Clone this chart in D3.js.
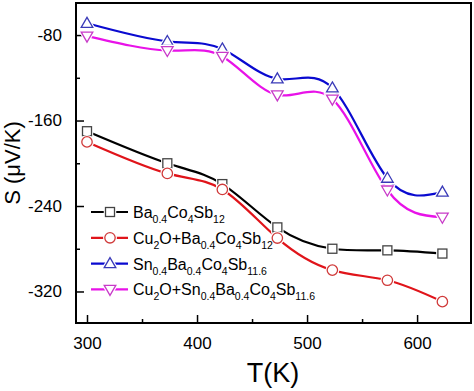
<!DOCTYPE html>
<html><head><meta charset="utf-8">
<script src="https://cdn.jsdelivr.net/npm/d3@7"></script>
<style>body{margin:0;background:#fff}svg{display:block}text{font-family:"Liberation Sans",Arial,sans-serif}</style>
</head><body><svg id="c" width="474" height="391"></svg>
<script>
const temps = [300, 373, 423, 473, 523, 573, 623];
const baCoSb = [-170, -200, -219.5, -260, -280, -281.5, -284.5];
const cu2oBaCoSb = [-180, -209.5, -224.5, -270, -300, -309.5, -329.5];
const snBaCoSb = [-69, -86, -93, -121, -129.5, -214, -227];
const cu2oSnBaCoSb = [-81, -94.5, -100, -136, -140, -225, -250.5];
const xTicks = [300, 400, 500, 600];
const yTicks = [-80, -160, -240, -320];
const xMinor = [350, 450, 550];
const yMinor = [-120, -200, -280];

const series = [
  {name: [["Ba",""],["0.4","sub"],["Co",""],["4","sub"],["Sb",""],["12","sub"]], values: baCoSb, line: "#000000", mark: "#444444", shape: "square"},
  {name: [["Cu",""],["2","sub"],["O+Ba",""],["0.4","sub"],["Co",""],["4","sub"],["Sb",""],["12","sub"]], values: cu2oBaCoSb, line: "#e0141a", mark: "#d03a3a", shape: "circle"},
  {name: [["Sn",""],["0.4","sub"],["Ba",""],["0.4","sub"],["Co",""],["4","sub"],["Sb",""],["11.6","sub"]], values: snBaCoSb, line: "#0a0ad0", mark: "#3a3ab8", shape: "up"},
  {name: [["Cu",""],["2","sub"],["O+Sn",""],["0.4","sub"],["Ba",""],["0.4","sub"],["Co",""],["4","sub"],["Sb",""],["11.6","sub"]], values: cu2oSnBaCoSb, line: "#e812e8", mark: "#c83ac8", shape: "down"}
];

const svg = d3.select("#c");
const L = 76, R = 471, T = 3, B = 323;
const x = d3.scaleLinear().domain([290, 649]).range([L, R]);
const y = d3.scaleLinear().domain([-349.5, -50]).range([B, T]);
const fmt = d => String(d);

const gx = svg.append("g").attr("transform", `translate(0,${B})`)
  .call(d3.axisBottom(x).tickValues(xTicks).tickSize(-8).tickPadding(14).tickFormat(fmt));
const gxm = svg.append("g").attr("transform", `translate(0,${B})`)
  .call(d3.axisBottom(x).tickValues(xMinor).tickSize(-4).tickFormat(""));
const gy = svg.append("g").attr("transform", `translate(${L},0)`)
  .call(d3.axisLeft(y).tickValues(yTicks).tickSize(-8).tickPadding(14).tickFormat(fmt));
const gym = svg.append("g").attr("transform", `translate(${L},0)`)
  .call(d3.axisLeft(y).tickValues(yMinor).tickSize(-4).tickFormat(""));
[gx, gxm, gy, gym].forEach(g => {
  g.select(".domain").remove();
  g.selectAll(".tick line").attr("stroke", "#000").attr("stroke-width", 1.5);
  g.selectAll("text").attr("font-size", 17).attr("fill", "#000");
});
gx.selectAll("text").attr("dy", "0.71em");

svg.append("rect").attr("x", L).attr("y", T).attr("width", R - L).attr("height", B - T)
  .attr("fill", "none").attr("stroke", "#000").attr("stroke-width", 2);

const line = d3.line().x((d, i) => x(temps[i])).y(d => y(d)).curve(d3.curveNatural);

function shapeEl(g, shape, cx, cy) {
  if (shape === "square") return g.append("rect").attr("x", cx - 4.5).attr("y", cy - 4.5).attr("width", 9).attr("height", 9);
  if (shape === "circle") return g.append("circle").attr("cx", cx).attr("cy", cy).attr("r", 5.2);
  if (shape === "up") return g.append("path").attr("d", `M${cx},${cy - 6}L${cx + 5.8},${cy + 4}L${cx - 5.8},${cy + 4}Z`);
  return g.append("path").attr("d", `M${cx},${cy + 6}L${cx + 5.8},${cy - 4}L${cx - 5.8},${cy - 4}Z`);
}
function drawMarker(g, shape, cx, cy, color) {
  shapeEl(g, shape, cx, cy).attr("fill", "#fff").attr("stroke", "#fff").attr("stroke-width", 3.5);
  shapeEl(g, shape, cx, cy).attr("fill", "#fff").attr("stroke", color).attr("stroke-width", 1.3);
}

series.forEach(s => {
  svg.append("path").datum(s.values).attr("d", line).attr("fill", "none")
    .attr("stroke", s.line).attr("stroke-width", 2.2);
});
series.forEach(s => {
  const g = svg.append("g");
  s.values.forEach((v, i) => drawMarker(g, s.shape, x(temps[i]), y(v), s.mark));
});

const legY0 = 212, legDY = 25.8;
series.forEach((s, k) => {
  const ly = legY0 + k * legDY;
  svg.append("line").attr("x1", 91).attr("x2", 128).attr("y1", ly).attr("y2", ly)
    .attr("stroke", s.line).attr("stroke-width", 2.2);
  drawMarker(svg.append("g"), s.shape, 110, ly, s.mark);
  const t = svg.append("text").attr("x", 133).attr("y", ly + 6).attr("font-size", 16).attr("fill", "#000");
  s.name.forEach(([txt, kind]) => {
    const ts = t.append("tspan").text(txt);
    if (kind === "sub") ts.attr("font-size", 10.5).attr("dy", 5);
    else ts.attr("dy", t.node().childNodes.length > 1 ? -5 : 0);
  });
});

svg.append("text").attr("x", 273).attr("y", 382).attr("text-anchor", "middle")
  .attr("font-size", 27).attr("fill", "#000").text("T(K)");
svg.append("text").attr("transform", "translate(20,163) rotate(-90)").attr("text-anchor", "middle")
  .attr("font-size", 22).attr("fill", "#000").text("S (\u03bcV/K)");
</script></body></html>
